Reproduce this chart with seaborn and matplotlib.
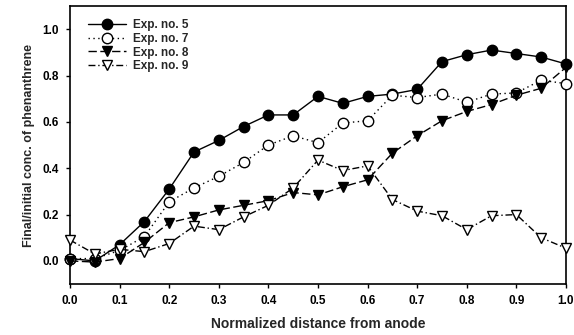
import numpy as np
import pandas as pd
import matplotlib
matplotlib.use("Agg")
import matplotlib.pyplot as plt
import seaborn as sns

# normalized distance from anode
distance = [0.0, 0.05, 0.1, 0.15, 0.2, 0.25, 0.3, 0.35, 0.4, 0.45, 0.5,
            0.55, 0.6, 0.65, 0.7, 0.75, 0.8, 0.85, 0.9, 0.95, 1.0]

exp5 = [0.01, 0.0, 0.07, 0.17, 0.31, 0.47, 0.52, 0.58, 0.63, 0.63, 0.71,
        0.68, 0.71, 0.72, 0.74, 0.86, 0.89, 0.91, 0.895, 0.88, 0.85]
exp7 = [0.01, 0.01, 0.045, 0.105, 0.255, 0.315, 0.365, 0.425, 0.50, 0.54, 0.51,
        0.595, 0.605, 0.715, 0.705, 0.72, 0.685, 0.72, 0.725, 0.78, 0.765]
exp8 = [0.0, -0.005, 0.01, 0.08, 0.165, 0.19, 0.22, 0.24, 0.26, 0.295, 0.285,
        0.32, 0.35, 0.465, 0.54, 0.605, 0.645, 0.675, 0.715, 0.745, 0.835]
exp9 = [0.09, 0.03, 0.05, 0.04, 0.075, 0.15, 0.135, 0.19, 0.24, 0.315, 0.435,
        0.39, 0.41, 0.265, 0.215, 0.195, 0.135, 0.195, 0.2, 0.1, 0.055]

series_names = ["Exp. no. 5", "Exp. no. 7", "Exp. no. 8", "Exp. no. 9"]
series_values = [exp5, exp7, exp8, exp9]

x_ticks = [0.0, 0.1, 0.2, 0.3, 0.4, 0.5, 0.6, 0.7, 0.8, 0.9, 1.0]
y_ticks = [0.0, 0.2, 0.4, 0.6, 0.8, 1.0]

df = pd.concat(
    [pd.DataFrame({"distance": distance, "conc": vals, "exp": name})
     for name, vals in zip(series_names, series_values)],
    ignore_index=True,
)

sns.set_theme(style="ticks")
plt.rcParams["font.family"] = ["Liberation Sans", "DejaVu Sans"]
plt.rcParams["font.weight"] = "bold"

fig = plt.figure(figsize=(5.74, 3.35), dpi=100)
ax = fig.add_axes([0.122, 0.152, 0.864, 0.830])

styles = {
    "Exp. no. 5": dict(marker="o", mfc="black", ls="-"),
    "Exp. no. 7": dict(marker="o", mfc="white", ls=(0, (1, 2.5))),
    "Exp. no. 8": dict(marker="v", mfc="black", ls=(0, (6, 2.5))),
    "Exp. no. 9": dict(marker="v", mfc="white", ls=(0, (5, 2, 1, 2))),
}

for name in series_names:
    st = styles[name]
    sub = df[df["exp"] == name]
    sns.lineplot(
        data=sub, x="distance", y="conc", ax=ax, label=name,
        color="black", lw=1.0, linestyle=st["ls"],
        marker=st["marker"], markersize=7.5, markerfacecolor=st["mfc"],
        markeredgecolor="black", markeredgewidth=1.0, clip_on=False, zorder=3,
    )

ax.set_xlim(0.0, 1.0)
ax.set_ylim(-0.1, 1.1)
ax.set_xticks(x_ticks)
ax.set_yticks(y_ticks)
ax.set_xticklabels([f"{t:.1f}" for t in x_ticks], fontsize=8.5, fontweight="bold")
ax.set_yticklabels([f"{t:.1f}" for t in y_ticks], fontsize=8.5, fontweight="bold")
ax.tick_params(direction="out", length=3, width=1, colors="black", pad=5)
for sp in ax.spines.values():
    sp.set_linewidth(1.2)
    sp.set_color("black")

ax.set_xlabel("Normalized distance from anode", fontsize=10, fontweight="bold", labelpad=7)
ax.set_ylabel("Final/initial conc. of phenanthrene", fontsize=9, fontweight="bold", labelpad=5)

leg = ax.legend(loc="upper left", frameon=False, fontsize=8.5, handlelength=3.2,
                handletextpad=0.6, labelspacing=0.15, borderaxespad=0.7,
                bbox_to_anchor=(0.01, 1.0))
for t in leg.get_texts():
    t.set_fontweight("bold")

fig.savefig("out.png", dpi=100)
